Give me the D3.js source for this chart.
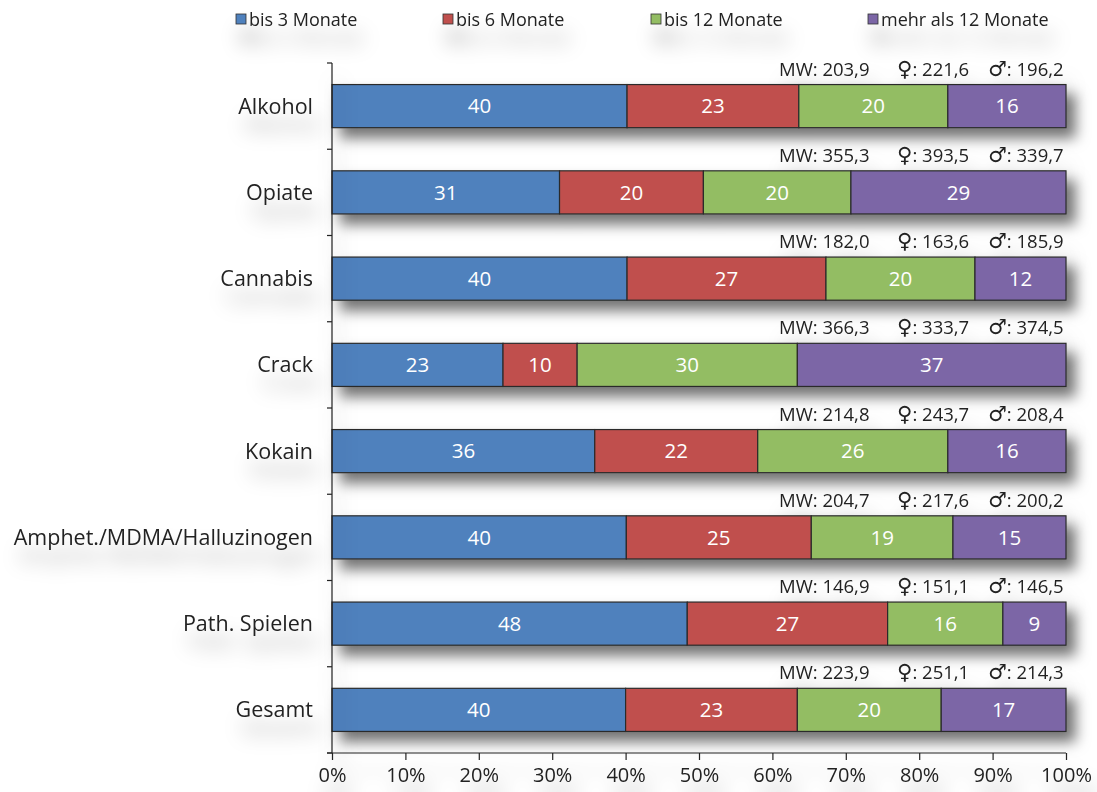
<!DOCTYPE html>
<html><head><meta charset="utf-8">
<script src="https://cdn.jsdelivr.net/npm/d3@7"></script>
<style>
html,body{margin:0;padding:0;background:#fff;}
svg{display:block;font-family:"Open Sans","Noto Sans",sans-serif;}
</style></head>
<body>
<svg id="chart" width="1097" height="792"></svg>
<script>
const categories = ["Alkohol","Opiate","Cannabis","Crack","Kokain","Amphet./MDMA/Halluzinogen","Path. Spielen","Gesamt"];
const seriesNames = ["bis 3 Monate","bis 6 Monate","bis 12 Monate","mehr als 12 Monate"];
const colors = ["#4F81BD","#C0504D","#93BD64","#7B66A6"];
const bis3   = [40.2, 31.0, 40.2, 23.3, 35.8, 40.1, 48.4, 40.0];
const bis6   = [23.4, 19.6, 27.1, 10.1, 22.2, 25.2, 27.3, 23.4];
const bis12  = [20.3, 20.1, 20.3, 30.0, 25.9, 19.3, 15.7, 19.6];
const mehr12 = [16.1, 29.3, 12.4, 36.6, 16.1, 15.4,  8.6, 17.0];
const mw     = ["203,9","355,3","182,0","366,3","214,8","204,7","146,9","223,9"];
const female = ["221,6","393,5","163,6","333,7","243,7","217,6","151,1","251,1"];
const male   = ["196,2","339,7","185,9","374,5","208,4","200,2","146,5","214,3"];
const xTicks = [0,10,20,30,40,50,60,70,80,90,100];

const svg = d3.select("#chart");
const defs = svg.append("defs");
function shadow(id, dx, dy, sd, op){
  const f = defs.append("filter").attr("id", id).attr("x","-20%").attr("y","-60%").attr("width","150%").attr("height","300%");
  f.append("feGaussianBlur").attr("in","SourceAlpha").attr("stdDeviation", sd).attr("result","b");
  f.append("feOffset").attr("in","b").attr("dx",dx).attr("dy",dy).attr("result","o");
  f.append("feFlood").attr("flood-color","#000").attr("flood-opacity",op).attr("result","c");
  f.append("feComposite").attr("in","c").attr("in2","o").attr("operator","in").attr("result","s");
  const m = f.append("feMerge");
  m.append("feMergeNode").attr("in","s");
  m.append("feMergeNode").attr("in","SourceGraphic");
}
shadow("barShadow", 9, 10, 7, 0.55);
shadow("textShadow", 6, 18, 10, 0.35);

const x = d3.scaleLinear().domain([0,100]).range([332,1066]);
const y = d3.scaleBand().domain(categories).range([63,753]).padding(0);
const step = y.bandwidth();
const barH = step*0.5;

const rows = categories.map((c,i)=>({cat:c, vals:[bis3[i],bis6[i],bis12[i],mehr12[i]], i}));
const stackData = rows.map(r=>{
  const total = d3.sum(r.vals);
  let acc = 0;
  return r.vals.map((v,k)=>{ const s = acc; acc += v/total*100; return {cat:r.cat, k, v, x0:s, x1:acc}; });
});

const gText = svg.append("g").attr("filter","url(#textShadow)");

// bars
const gBars = svg.append("g").attr("filter","url(#barShadow)");
stackData.forEach(segs=>{
  gBars.selectAll(null).data(segs).enter().append("rect")
    .attr("x", d=>x(d.x0)).attr("width", d=>x(d.x1)-x(d.x0))
    .attr("y", d=>y(d.cat)+step*0.25).attr("height", barH)
    .attr("fill", d=>colors[d.k]).attr("stroke","#2b2b2b").attr("stroke-width",1.2);
});
stackData.forEach(segs=>{
  svg.selectAll(null).data(segs).enter().append("text")
    .attr("x", d=>(x(d.x0)+x(d.x1))/2).attr("y", d=>y(d.cat)+step*0.5)
    .attr("dy","0.35em").attr("text-anchor","middle")
    .attr("fill","#fff").attr("font-size",20.5)
    .text(d=>Math.round(d.v));
});

// axes
const gAxes = svg.append("g").attr("filter","url(#textShadow)");
gAxes.append("line").attr("x1",332).attr("x2",332).attr("y1",63).attr("y2",753).attr("stroke","#222").attr("stroke-width",1.2);
const bounds = categories.map(c=>y(c)).concat([y.range()[1]]);
gAxes.selectAll(null).data(bounds).enter().append("line")
  .attr("x1",327).attr("x2",332).attr("y1",d=>d).attr("y2",d=>d).attr("stroke","#222").attr("stroke-width",1.2);

const xAxis = gAxes.append("g").attr("transform","translate(0,753)")
  .call(d3.axisBottom(x).tickValues(xTicks).tickSize(7).tickPadding(8).tickFormat(d=>d+"%"));
xAxis.select(".domain").attr("stroke","#222").attr("stroke-width",1.2).attr("d","M327,0H1066");
xAxis.selectAll(".tick line").attr("stroke","#222").attr("stroke-width",1.2);
xAxis.selectAll(".tick text").attr("font-size",20).attr("fill","#222").attr("font-family","\"Open Sans\",\"Noto Sans\",sans-serif");

// category labels
gText.selectAll(null).data(categories).enter().append("text")
  .attr("x",313).attr("y",d=>y(d)+step*0.5).attr("dy","0.35em")
  .attr("text-anchor","end").attr("font-size",21.5).attr("fill","#222").text(d=>d);

// MW labels
categories.forEach((c,i)=>{
  const yy = y(c)+step*0.07;
  gText.append("text").attr("x",779).attr("y",yy).attr("dy","0.35em").attr("font-size",18.5).attr("fill","#222").text("MW: "+mw[i]);
  const tf = gText.append("text").attr("x",897).attr("y",yy).attr("dy","0.35em").attr("font-size",18.5).attr("fill","#222");
  tf.append("tspan").attr("font-family","DejaVu Sans").attr("font-size",21).text("\u2640");
  tf.append("tspan").text(": "+female[i]);
  const tm = gText.append("text").attr("x",988).attr("y",yy).attr("dy","0.35em").attr("font-size",18.5).attr("fill","#222");
  tm.append("tspan").attr("font-family","DejaVu Sans").attr("font-size",21).text("\u2642");
  tm.append("tspan").text(": "+male[i]);
});

// legend
const legX = [236,443,651,868];
const gLeg = svg.append("g").attr("filter","url(#textShadow)");
seriesNames.forEach((s,k)=>{
  gLeg.append("rect").attr("x",legX[k]).attr("y",14).attr("width",10).attr("height",10)
    .attr("fill",colors[k]).attr("stroke","#333").attr("stroke-width",0.8);
  gLeg.append("text").attr("x",legX[k]+13).attr("y",19.5).attr("dy","0.35em")
    .attr("font-size",18).attr("fill","#222").text(s);
});
</script>
</body></html>
